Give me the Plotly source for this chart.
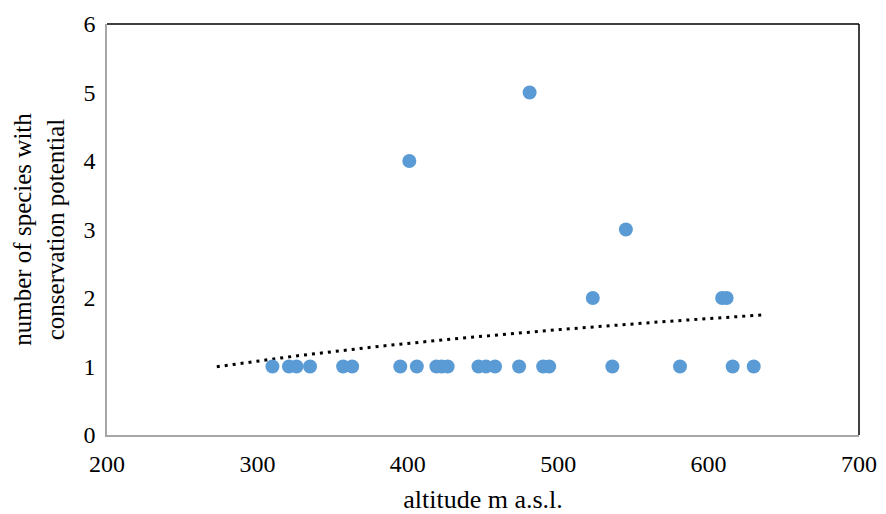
import numpy as np
import plotly.graph_objects as go

# altitude (m a.s.l.) and number of species with conservation potential
altitude = [310, 321, 326, 335, 357, 363, 395, 406, 419, 422.5, 426.5, 447, 452, 458,
            474, 490, 494, 536, 581, 616, 630,
            523, 609, 612,
            545, 401, 481]
species = [1, 1, 1, 1, 1, 1, 1, 1, 1, 1, 1, 1, 1, 1,
           1, 1, 1, 1, 1, 1, 1,
           2, 2, 2,
           3, 4, 5]

x_ticks = [200, 300, 400, 500, 600, 700]
y_ticks = [0, 1, 2, 3, 4, 5, 6]

# logarithmic trendline (Excel style) with backward/forward forecast
forecast_back = 37
forecast_fwd = 6
xa = np.array(altitude, dtype=float)
ya = np.array(species, dtype=float)
a, b = np.polyfit(np.log(xa), ya, 1)
tx = np.linspace(xa.min() - forecast_back, xa.max() + forecast_fwd, 200)
ty = a * np.log(tx) + b

font_family = "Liberation Serif"

fig = go.Figure()
fig.add_trace(go.Scatter(
    x=tx, y=ty, mode="lines",
    line=dict(color="black", width=3, dash="3px,5px"),
    hoverinfo="skip", showlegend=False))
fig.add_trace(go.Scatter(
    x=altitude, y=species, mode="markers",
    marker=dict(color="#5b9bd5", size=14, line=dict(width=0)),
    showlegend=False))

fig.update_layout(
    width=886, height=514,
    margin=dict(l=107, r=27, t=24, b=79),
    paper_bgcolor="white", plot_bgcolor="white",
    font=dict(family=font_family, size=24, color="black"),
    xaxis=dict(range=[200, 700], tickvals=x_ticks, ticktext=[str(v) for v in x_ticks],
               showgrid=False, zeroline=False, showline=True, linecolor="#a6a6a6",
               linewidth=1.5, ticks="", tickfont=dict(size=24), ticklabelstandoff=6,
               automargin=False,
               title=dict(text="altitude m a.s.l.", font=dict(size=26), standoff=14)),
    yaxis=dict(range=[0, 6], tickvals=y_ticks, ticktext=[str(v) for v in y_ticks],
               showgrid=False, zeroline=False, showline=True, linecolor="#a6a6a6",
               linewidth=1.5, ticks="", tickfont=dict(size=24), ticklabelstandoff=5,
               automargin=False,
               title=dict(text="number of species with<br>conservation potential",
                          font=dict(size=25), standoff=12)),
    shapes=[
        dict(type="line", xref="paper", yref="paper", x0=0, x1=1, y0=1, y1=1,
             line=dict(color="black", width=1.5)),
        dict(type="line", xref="paper", yref="paper", x0=1, x1=1, y0=0, y1=1,
             line=dict(color="black", width=1.5)),
    ],
)

fig.write_html("out.html",
               config={"displayModeBar": False},
               post_script="document.body.style.margin='0';document.body.style.overflow='hidden';")
